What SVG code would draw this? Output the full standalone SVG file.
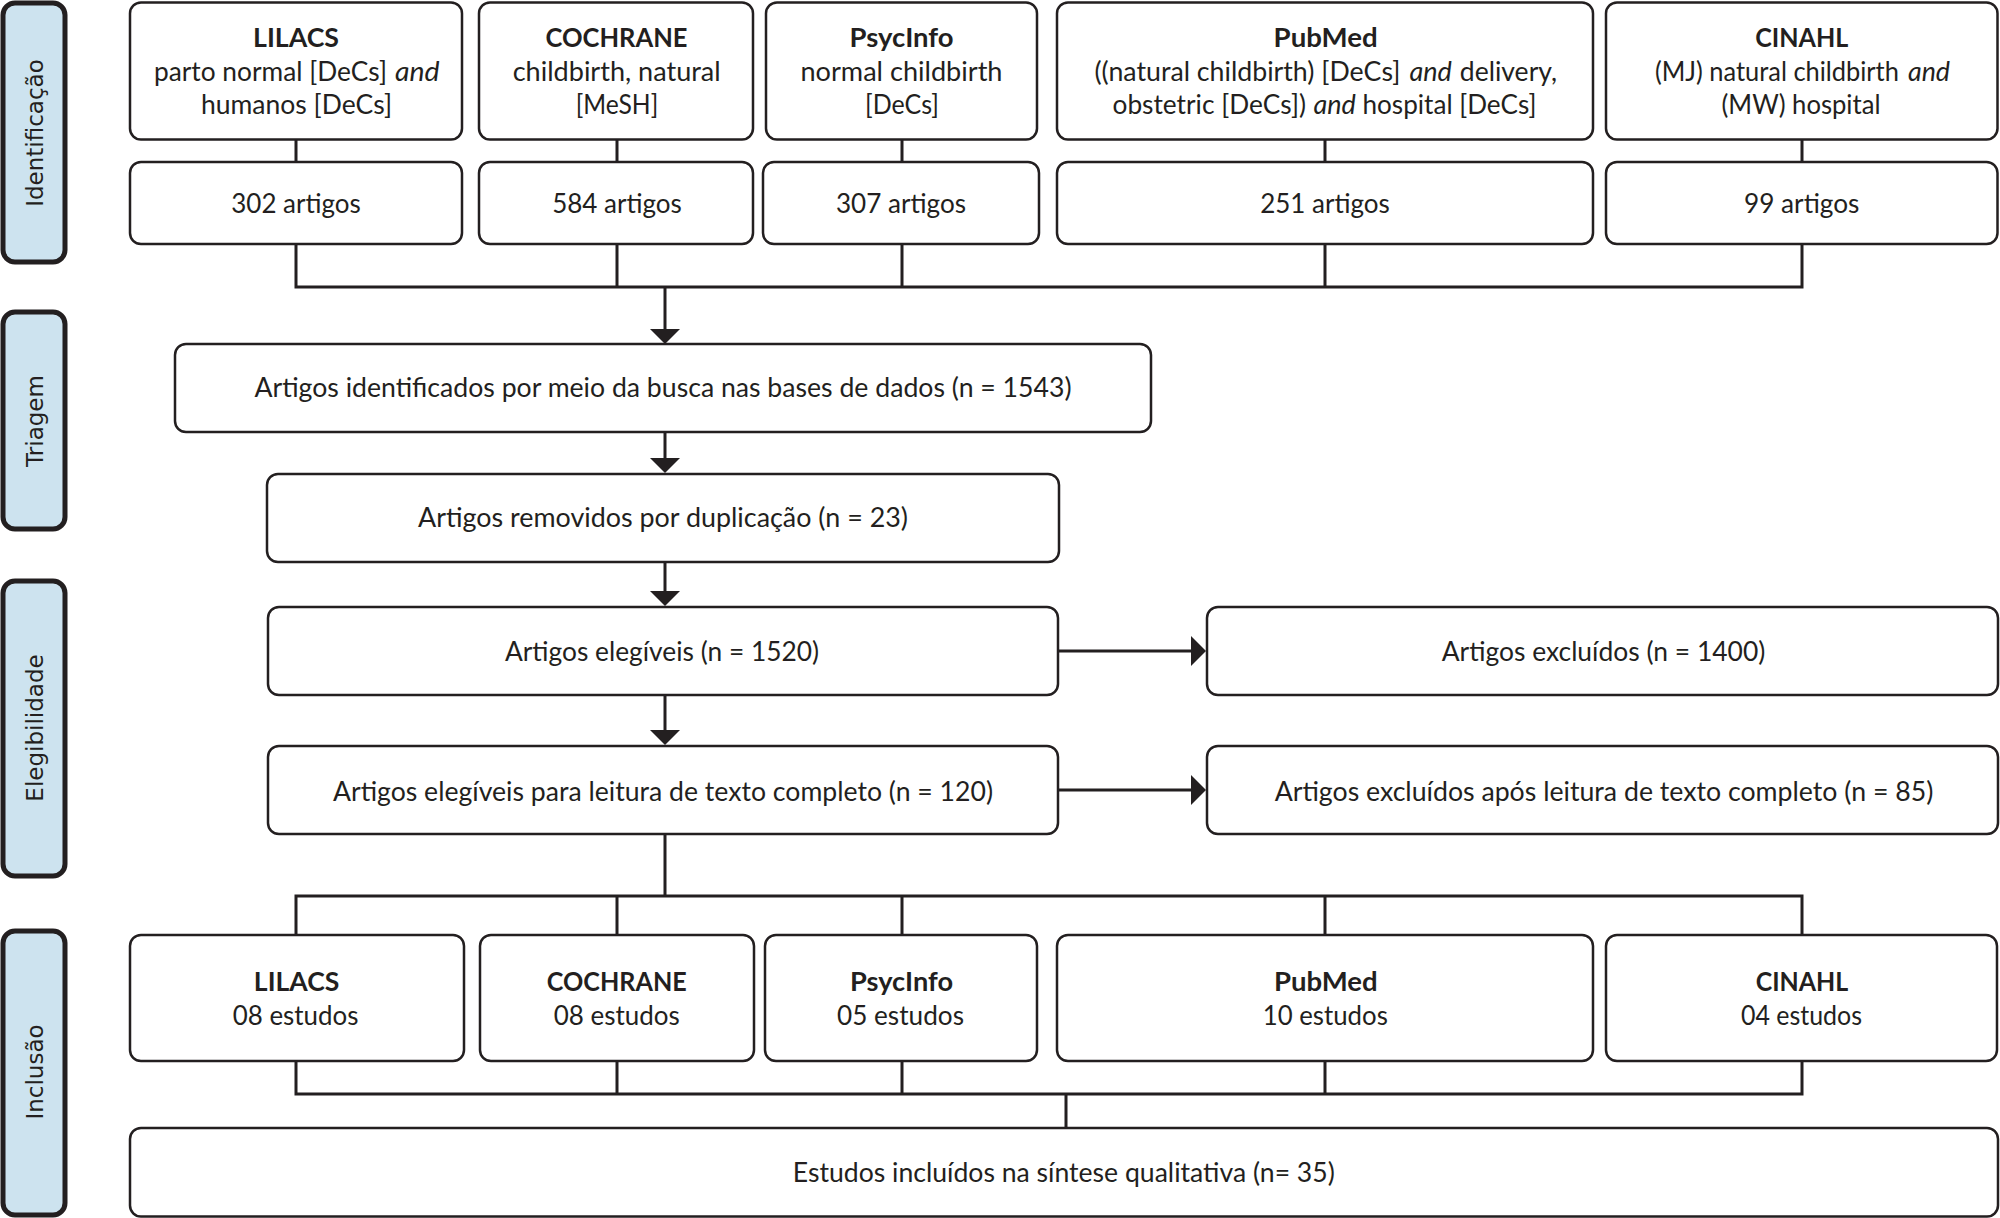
<svg xmlns="http://www.w3.org/2000/svg" width="2000" height="1218" viewBox="0 0 2000 1218">
<defs>
<style>
.bx{fill:#fff;stroke:#231f20;stroke-width:2.5}
.sd{fill:#cde3ef;stroke:#231f20;stroke-width:5}
.t{font-family:Lato,"Liberation Sans",sans-serif;font-size:27px;fill:#231f20;text-anchor:middle}
.s{text-anchor:start}
.e{text-anchor:end}
.b{font-weight:bold}
.i{font-style:italic}
.st{font-family:"DejaVu Sans",sans-serif;font-size:23px;fill:#231f20;text-anchor:middle}
.ln{fill:none;stroke:#231f20;stroke-width:3}
</style>
<marker id="ah" viewBox="0 0 15 30" refX="2" refY="15" markerWidth="15" markerHeight="30" markerUnits="userSpaceOnUse" orient="auto">
<path d="M0,0 L15,15 L0,30 Z" fill="#231f20"/>
</marker>
</defs>
<rect width="2000" height="1218" fill="#fff"/>

<g id="phases">
<g id="phase-identificacao"><rect class="sd" x="3" y="3" width="62" height="259" rx="12"/><text class="st" transform="translate(43,133) rotate(-90)">Identificação</text></g>
<g id="phase-triagem"><rect class="sd" x="3" y="312" width="62" height="217" rx="12"/><text class="st" transform="translate(43,421) rotate(-90)">Triagem</text></g>
<g id="phase-elegibilidade"><rect class="sd" x="3" y="581" width="62" height="295" rx="12"/><text class="st" transform="translate(43,728) rotate(-90)">Elegibilidade</text></g>
<g id="phase-inclusao"><rect class="sd" x="3" y="931" width="62" height="284" rx="12"/><text class="st" transform="translate(43,1072) rotate(-90)">Inclusão</text></g>
</g>

<g id="connectors">
<path class="ln" d="M296,139.5V162 M617,139.5V162 M902,139.5V162 M1325,139.5V162 M1802,139.5V162"/>
<path class="ln" d="M296,244V287H1802V244 M617,244V287 M902,244V287 M1325,244V287"/>
<path class="ln" d="M665,287V331" marker-end="url(#ah)"/>
<path class="ln" d="M665,432V460" marker-end="url(#ah)"/>
<path class="ln" d="M665,562V593" marker-end="url(#ah)"/>
<path class="ln" d="M665,695V732" marker-end="url(#ah)"/>
<path class="ln" d="M1058,651H1193" marker-end="url(#ah)"/>
<path class="ln" d="M1058,790H1193" marker-end="url(#ah)"/>
<path class="ln" d="M665,834V896 M296,935V896H1802V935 M617,896V935 M902,896V935 M1325,896V935"/>
<path class="ln" d="M296,1061V1094H1802V1061 M617,1061V1094 M902,1061V1094 M1325,1061V1094 M1066,1094V1128"/>
</g>

<g id="src-lilacs"><rect class="bx" x="130" y="2.5" width="332" height="137" rx="11"/>
<text class="t b" x="296" y="46.7" textLength="86" lengthAdjust="spacingAndGlyphs">LILACS</text>
<text class="t e" x="387" y="81" textLength="233" lengthAdjust="spacingAndGlyphs">parto normal [DeCs]</text>
<text class="t s i" x="395" y="81" textLength="44.6" lengthAdjust="spacingAndGlyphs">and</text>
<text class="t" x="296.5" y="114.3" textLength="191" lengthAdjust="spacingAndGlyphs">humanos [DeCs]</text></g>
<g id="src-cochrane"><rect class="bx" x="479" y="2.5" width="274" height="137" rx="11"/>
<text class="t b" x="616.5" y="46.7" textLength="142" lengthAdjust="spacingAndGlyphs">COCHRANE</text>
<text class="t" x="616.7" y="81" textLength="208" lengthAdjust="spacingAndGlyphs">childbirth, natural</text>
<text class="t" x="617" y="114.3" textLength="82.5" lengthAdjust="spacingAndGlyphs">[MeSH]</text></g>
<g id="src-psycinfo"><rect class="bx" x="766" y="2.5" width="271" height="137" rx="11"/>
<text class="t b" x="901.5" y="46.7" textLength="104" lengthAdjust="spacingAndGlyphs">PsycInfo</text>
<text class="t" x="901.5" y="81" textLength="202" lengthAdjust="spacingAndGlyphs">normal childbirth</text>
<text class="t" x="902" y="114.3" textLength="74" lengthAdjust="spacingAndGlyphs">[DeCs]</text></g>
<g id="src-pubmed"><rect class="bx" x="1057" y="2.5" width="536" height="137" rx="11"/>
<text class="t b" x="1325.6" y="46.7" textLength="104" lengthAdjust="spacingAndGlyphs">PubMed</text>
<text class="t e" x="1400.4" y="81" textLength="306" lengthAdjust="spacingAndGlyphs">((natural childbirth) [DeCs]</text>
<text class="t i" x="1430.6" y="81" textLength="42.4" lengthAdjust="spacingAndGlyphs">and</text>
<text class="t s" x="1459.8" y="81" textLength="97.2" lengthAdjust="spacingAndGlyphs">delivery,</text>
<text class="t e" x="1306" y="114.3" textLength="193.5" lengthAdjust="spacingAndGlyphs">obstetric [DeCs])</text>
<text class="t i" x="1334.6" y="114.3" textLength="42.4" lengthAdjust="spacingAndGlyphs">and</text>
<text class="t s" x="1362.5" y="114.3" textLength="174" lengthAdjust="spacingAndGlyphs">hospital [DeCs]</text></g>
<g id="src-cinahl"><rect class="bx" x="1606" y="2.5" width="391.5" height="137" rx="11"/>
<text class="t b" x="1801.8" y="46.7" textLength="93" lengthAdjust="spacingAndGlyphs">CINAHL</text>
<text class="t e" x="1898.9" y="81" textLength="244" lengthAdjust="spacingAndGlyphs">(MJ) natural childbirth</text>
<text class="t s i" x="1908" y="81" textLength="42" lengthAdjust="spacingAndGlyphs">and</text>
<text class="t" x="1801" y="114.3" textLength="159" lengthAdjust="spacingAndGlyphs">(MW) hospital</text></g>

<g id="cnt-lilacs"><rect class="bx" x="130" y="162" width="332" height="82" rx="11"/><text class="t" x="296" y="213.3" textLength="129.5" lengthAdjust="spacingAndGlyphs">302 artigos</text></g>
<g id="cnt-cochrane"><rect class="bx" x="479" y="162" width="274" height="82" rx="11"/><text class="t" x="617" y="213.3" textLength="129.7" lengthAdjust="spacingAndGlyphs">584 artigos</text></g>
<g id="cnt-psycinfo"><rect class="bx" x="763" y="162" width="276" height="82" rx="11"/><text class="t" x="901" y="213.3" textLength="130" lengthAdjust="spacingAndGlyphs">307 artigos</text></g>
<g id="cnt-pubmed"><rect class="bx" x="1057" y="162" width="536" height="82" rx="11"/><text class="t" x="1325" y="213.3" textLength="129.7" lengthAdjust="spacingAndGlyphs">251 artigos</text></g>
<g id="cnt-cinahl"><rect class="bx" x="1606" y="162" width="391.5" height="82" rx="11"/><text class="t" x="1801.7" y="213.3" textLength="115.4" lengthAdjust="spacingAndGlyphs">99 artigos</text></g>

<g id="identificados"><rect class="bx" x="175" y="344" width="976" height="88" rx="11"/><text class="t" x="663" y="397.3" textLength="817" lengthAdjust="spacingAndGlyphs">Artigos identificados por meio da busca nas bases de dados (n = 1543)</text></g>
<g id="removidos"><rect class="bx" x="267" y="474" width="792" height="88" rx="11"/><text class="t" x="663" y="526.7" textLength="490" lengthAdjust="spacingAndGlyphs">Artigos removidos por duplicação (n = 23)</text></g>
<g id="elegiveis"><rect class="bx" x="268" y="607" width="790" height="88" rx="11"/><text class="t" x="662" y="660.7" textLength="314" lengthAdjust="spacingAndGlyphs">Artigos elegíveis (n = 1520)</text></g>
<g id="elegiveis-texto"><rect class="bx" x="268" y="746" width="790" height="88" rx="11"/><text class="t" x="663" y="800.7" textLength="660" lengthAdjust="spacingAndGlyphs">Artigos elegíveis para leitura de texto completo (n = 120)</text></g>
<g id="excluidos"><rect class="bx" x="1207" y="607" width="791" height="88" rx="11"/><text class="t" x="1603.5" y="661.3" textLength="323.6" lengthAdjust="spacingAndGlyphs">Artigos excluídos (n = 1400)</text></g>
<g id="excluidos-texto"><rect class="bx" x="1207" y="746" width="791" height="88" rx="11"/><text class="t" x="1604" y="800.7" textLength="658.6" lengthAdjust="spacingAndGlyphs">Artigos excluídos após leitura de texto completo (n = 85)</text></g>

<g id="inc-lilacs"><rect class="bx" x="130" y="935" width="334" height="126" rx="11"/>
<text class="t b" x="296.6" y="991" textLength="85.5" lengthAdjust="spacingAndGlyphs">LILACS</text>
<text class="t" x="295.6" y="1025" textLength="125.6" lengthAdjust="spacingAndGlyphs">08 estudos</text></g>
<g id="inc-cochrane"><rect class="bx" x="480" y="935" width="274" height="126" rx="11"/>
<text class="t b" x="616.8" y="991" textLength="140" lengthAdjust="spacingAndGlyphs">COCHRANE</text>
<text class="t" x="616.8" y="1025" textLength="126" lengthAdjust="spacingAndGlyphs">08 estudos</text></g>
<g id="inc-psycinfo"><rect class="bx" x="765" y="935" width="272" height="126" rx="11"/>
<text class="t b" x="901.5" y="991" textLength="103" lengthAdjust="spacingAndGlyphs">PsycInfo</text>
<text class="t" x="900.5" y="1025" textLength="127" lengthAdjust="spacingAndGlyphs">05 estudos</text></g>
<g id="inc-pubmed"><rect class="bx" x="1057" y="935" width="536" height="126" rx="11"/>
<text class="t b" x="1325.8" y="991" textLength="103.6" lengthAdjust="spacingAndGlyphs">PubMed</text>
<text class="t" x="1325.3" y="1025" textLength="125" lengthAdjust="spacingAndGlyphs">10 estudos</text></g>
<g id="inc-cinahl"><rect class="bx" x="1606" y="935" width="391" height="126" rx="11"/>
<text class="t b" x="1802" y="991" textLength="92.5" lengthAdjust="spacingAndGlyphs">CINAHL</text>
<text class="t" x="1801.5" y="1025" textLength="121" lengthAdjust="spacingAndGlyphs">04 estudos</text></g>

<g id="final"><rect class="bx" x="130" y="1128" width="1868" height="88.5" rx="11"/><text class="t" x="1063.8" y="1181.7" textLength="542" lengthAdjust="spacingAndGlyphs">Estudos incluídos na síntese qualitativa (n= 35)</text></g>
</svg>
